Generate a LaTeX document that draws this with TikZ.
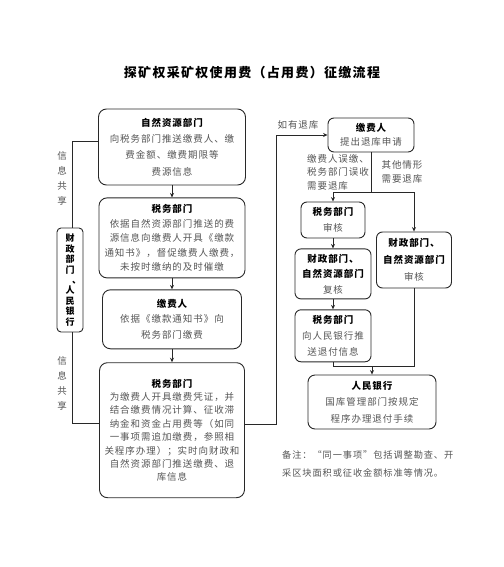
\documentclass[tikz,border=0pt]{standalone}
\usepackage{fontspec}
\setmainfont[LetterSpace=10]{Noto Sans CJK SC}
\usepackage{xcolor}
\usepackage{tikz}
\usetikzlibrary{arrows.meta, positioning}
\definecolor{linegray}{RGB}{40, 40, 40}
\definecolor{textgray}{RGB}{85, 85, 85}
\newcommand{\boxhead}[1]{{\color{black}\bfseries #1}}

\begin{document}
\begin{tikzpicture}[x=1pt, y=-1pt,
    flowbox/.style={draw=linegray, line width=0.9pt, rounded corners=8pt, 
                    align=center, inner sep=2pt, text=textgray, 
                    font=\fontsize{9.5}{#1}\selectfont},
    note/.style={text=textgray, align=center, inner sep=0pt, 
                 font=\fontsize{9.5}{14.5}\selectfont},
    link/.style={draw=linegray, line width=0.8pt},
    flow/.style={link, -{Stealth[length=4.5pt, width=4pt]}},
]
    \useasboundingbox (0,0) rectangle (503,567);
    \node[font=\fontsize{13}{16}\selectfont\bfseries] (title) at (252,73) 
        {探矿权采矿权使用费（占用费）征缴流程};

    % left column
    \node[flowbox=16.3, minimum width=147pt, minimum height=76pt] (nrGov) at (172,147)
        {\boxhead{自然资源部门}\\向税务部门推送缴费人、缴\\费金额、缴费期限等\\费源信息};
    \node[flowbox=14.5, minimum width=146pt, minimum height=80pt, below=12pt of nrGov] (taxNotice)
        {\boxhead{税务部门}\\依据自然资源部门推送的费\\源信息向缴费人开具《缴款\\通知书》，督促缴费人缴费，\\未按时缴纳的及时催缴};
    \node[flowbox=15.5, minimum width=139pt, minimum height=59pt, below=11pt of taxNotice] (payer)
        {\boxhead{缴费人}\\依据《缴款通知书》向\\税务部门缴费};
    \node[flowbox=13.4, minimum width=145pt, minimum height=135pt, below=13pt of payer] (taxCollect)
        {\boxhead{税务部门}\\为缴费人开具缴费凭证，并\\结合缴费情况计算、征收滞\\纳金和资金占用费等（如同\\一事项需追加缴费，参照相\\关程序办理）；实时向财政和\\自然资源部门推送缴费、退\\库信息};

    \node[flowbox=10.4, rounded corners=4pt, inner sep=1pt, minimum width=26pt, 
          minimum height=104pt, text=black, font=\fontsize{9}{10.4}\selectfont\bfseries] (finBank) at (70,280)
        {财\\政\\部\\门\\\makebox[0pt]{\kern13pt 、}\\人\\民\\银\\行};
    \node[note, font=\fontsize{9.5}{15}\selectfont] (shareTop) at (62,178) {信\\息\\共\\享};
    \node[note, font=\fontsize{9.5}{15}\selectfont] (shareBottom) at (62,383) {信\\息\\共\\享};

    % right column
    \node[flowbox=14.5, rounded corners=6pt, minimum width=86pt, minimum height=34pt] (payerRefund) at (371,135)
        {\boxhead{缴费人}\\提出退库申请};
    \node[flowbox=16, rounded corners=6pt, minimum width=64pt, minimum height=36pt] (taxAudit) at (333,220)
        {\boxhead{税务部门}\\审核};
    \node[flowbox=15.5, rounded corners=6pt, minimum width=76pt, minimum height=50pt, below=10pt of taxAudit] (jointReview)
        {\boxhead{财政部门、}\\\boxhead{自然资源部门}\\复核};
    \node[flowbox=16, rounded corners=6pt, minimum width=76pt, minimum height=52pt, below=10pt of jointReview] (taxPush)
        {\boxhead{税务部门}\\向人民银行推\\送退付信息};
    \node[flowbox=17, rounded corners=6pt, minimum width=75pt, minimum height=56pt] (jointAudit) at (414,260)
        {\boxhead{财政部门、}\\\boxhead{自然资源部门}\\审核};
    \node[flowbox=16.5, rounded corners=7pt, minimum width=128pt, minimum height=54pt] (pboc) at (372,402)
        {\boxhead{人民银行}\\国库管理部门按规定\\程序办理退付手续};

    \node[note] (ifRefund) at (298,125) {如有退库};
    \node[note, align=left, font=\fontsize{9.5}{13.5}\selectfont] (wrongPay) at (338,172)
        {缴费人误缴、\\税务部门误收\\需要退库};
    \node[note] (otherCase) at (402,172) {其他情形\\需要退库};
    \node[note, align=left, anchor=west, font=\fontsize{9.2}{18}\selectfont] (remark) at (282,464)
        {备注：“同一事项”包括调整勘查、开\\采区块面积或征收金额标准等情况。};

    \coordinate (split) at ([yshift=-40pt]payerRefund.south);
    \coordinate (merge) at (pboc.north |- taxPush.south);

    % connectors
    \draw[flow] (nrGov) -- (taxNotice);
    \draw[flow] (taxNotice) -- (payer);
    \draw[flow] (payer) -- (taxCollect);
    \draw[link] ([yshift=6pt]nrGov.west) -| ([xshift=2.5pt]finBank.north);
    \draw[link] ([xshift=2.5pt]finBank.south) |- ([yshift=7pt]taxCollect.west);
    \draw[flow] ([yshift=6pt]taxCollect.east) -- ++(31,0) |- (payerRefund.west);
    \draw[link] (payerRefund.south) -- (split);
    \draw[flow] (split) -| (taxAudit.north);
    \draw[flow] (split) -| (jointAudit.north);
    \draw[flow] (taxAudit) -- (jointReview);
    \draw[flow] (jointReview) -- (taxPush);
    \draw[link] (taxPush.south) |- ([yshift=-4pt]merge) -| (jointAudit.south);
    \draw[flow] ([yshift=-4pt]merge) -- (pboc.north);
\end{tikzpicture}
\end{document}
